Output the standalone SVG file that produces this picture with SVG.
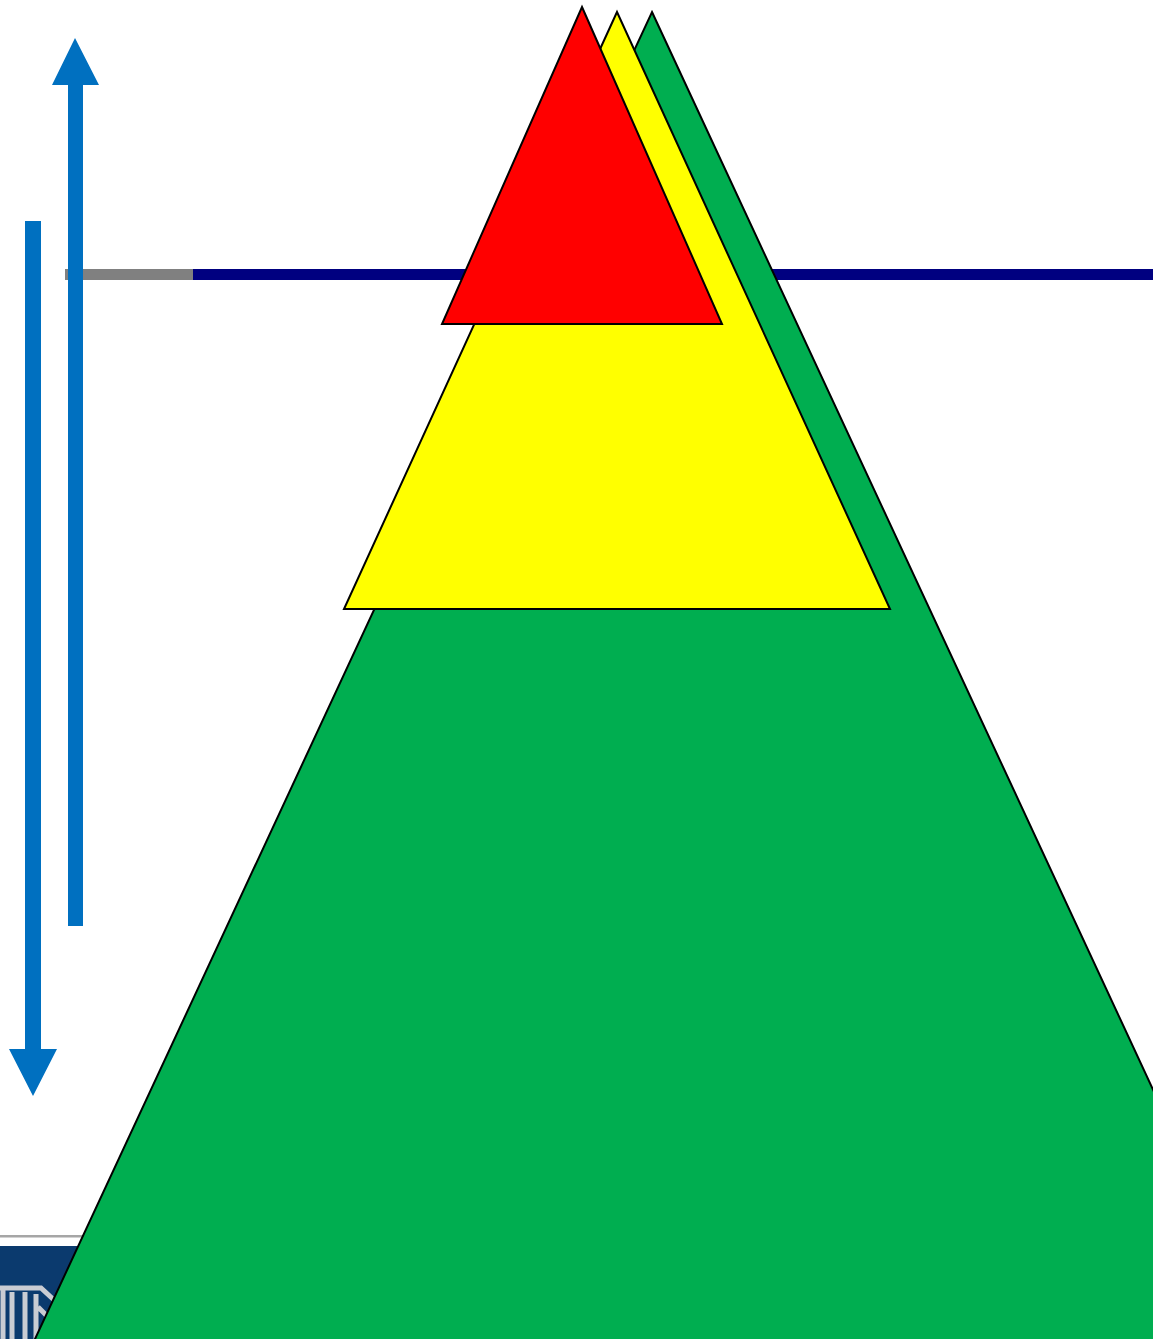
<svg xmlns="http://www.w3.org/2000/svg" width="1153" height="1339" viewBox="0 0 1153 1339">
  <style>
    .tri { stroke: #000000; stroke-width: 2; stroke-linejoin: miter; }
    .arrow { fill: #0070c0; }
    .logo { fill: none; stroke: #c9ccd3; stroke-width: 5; }
  </style>
  <rect x="0" y="0" width="1153" height="1339" fill="#ffffff"/>
  <g id="footer-band">
    <rect x="0" y="1235" width="1153" height="2.5" fill="#a6a6a6"/>
    <rect x="0" y="1246" width="200" height="93" fill="#0b3a6e"/>
    <path class="logo" d="M -3 1288 L 41 1288 L 54 1300 M 3 1288 L 3 1339 M 12 1292 L 12 1339 M 25 1292 L 25 1339 M 36 1294 L 36 1339 M 38 1307 L 50 1319"/>
  </g>
  <g id="connectors">
    <rect x="65" y="269" width="128" height="11" fill="#808080"/>
    <rect x="193" y="269" width="960" height="11" fill="#000080"/>
  </g>
  <g id="green-triangle">
    <polygon class="tri" points="652,12 1302,1410 2,1410" fill="#00ae50"/>
  </g>
  <g id="yellow-triangle">
    <polygon class="tri" points="617,12 890,609 344,609" fill="#ffff00"/>
  </g>
  <g id="red-triangle">
    <polygon class="tri" points="582,7 722,324 442,324" fill="#ff0000"/>
  </g>
  <g id="up-arrow">
    <polygon class="arrow" points="68,926 83,926 83,85 99,85 75,38 52,85 68,85"/>
  </g>
  <g id="down-arrow">
    <polygon class="arrow" points="25,221 41,221 41,1049 57,1049 33,1096 9,1049 25,1049"/>
  </g>
</svg>
